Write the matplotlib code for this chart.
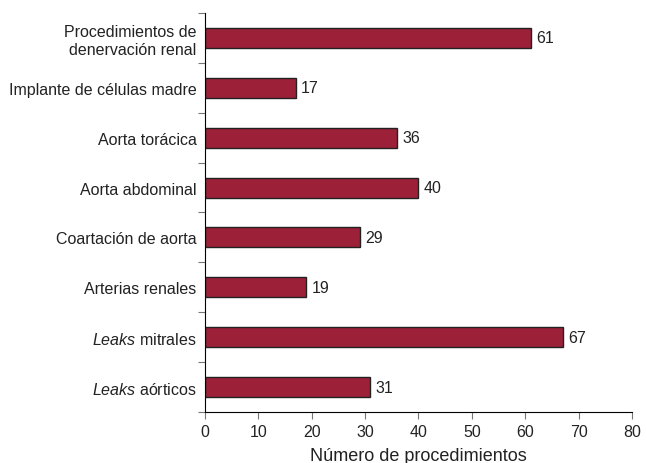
import matplotlib.pyplot as plt
import numpy as np

plt.rcParams['font.family'] = ['Liberation Sans', 'DejaVu Sans']
plt.rcParams['mathtext.fontset'] = 'custom'
plt.rcParams['mathtext.rm'] = 'Liberation Sans'
plt.rcParams['mathtext.it'] = 'Liberation Sans:italic'

# data, top to bottom
categories = ['Procedimientos de\ndenervación renal', 'Implante de células madre',
              'Aorta torácica', 'Aorta abdominal', 'Coartación de aorta',
              'Arterias renales', r'$\it{Leaks}$ mitrales', r'$\it{Leaks}$ aórticos']
values = [61, 17, 36, 40, 29, 19, 67, 31]
xticks = [0, 10, 20, 30, 40, 50, 60, 70, 80]

fig = plt.figure(figsize=(6.47, 4.64), dpi=100)
ax = fig.add_axes([0.3168, 0.1099, 0.66, 0.86])

n = len(categories)
ypos = np.arange(n)[::-1]
ax.barh(ypos, values, height=0.4, color='#9B2038', edgecolor='#222222', linewidth=1.0)

for y, v in zip(ypos, values):
    ax.text(v + 1, y, str(v), va='center', ha='left', fontsize=11.5, color='#222222')

ax.set_xlim(0, 80)
ax.set_ylim(-0.5, n - 0.5)
ax.set_xticks(xticks)
ax.set_yticks(np.arange(n + 1) - 0.5)
ax.set_yticklabels([])
ax.set_yticks(ypos, minor=True)
ax.set_yticklabels(categories, minor=True, fontsize=11.5, color='#222222')
ax.tick_params(axis='y', which='minor', length=0, pad=6)
ax.tick_params(axis='y', which='major', length=5, color='#777777')
ax.tick_params(axis='x', length=5, color='#777777', labelsize=11.5, labelcolor='#222222')

ax.spines['top'].set_visible(False)
ax.spines['right'].set_visible(False)
ax.set_xlabel('Número de procedimientos', fontsize=13, color='#222222', labelpad=6)

fig.savefig('out.png', dpi=100)
